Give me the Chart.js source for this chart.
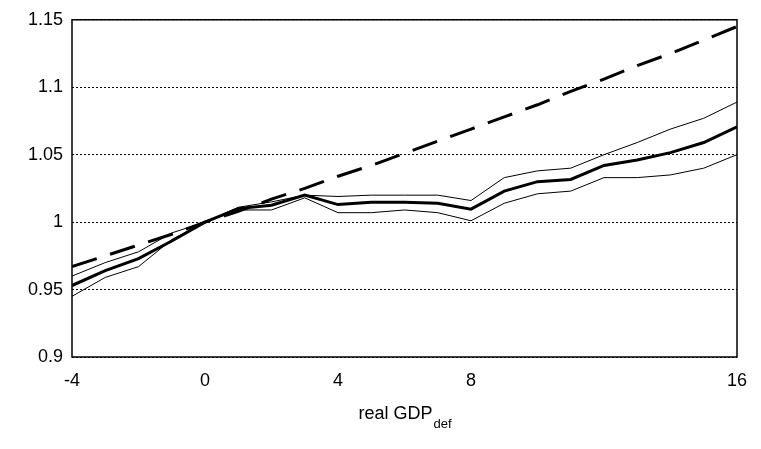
<!DOCTYPE html>
<html><head><meta charset="utf-8">
<script src="https://cdn.jsdelivr.net/npm/chart.js@4/dist/chart.umd.min.js"></script>
<style>html,body{margin:0;background:#fff}#c{display:block}</style>
</head><body>
<div style="width:761px;height:449px"><canvas id="c"></canvas></div>
<script>
const horizons = [-4,-3,-2,-1,0,1,2,3,4,5,6,7,8,9,10,11,12,13,14,15,16];
const median = [0.953,0.964,0.973,0.986,1,1.010,1.0125,1.020,1.013,1.0147,1.0147,1.014,1.0096,1.023,1.030,1.0316,1.042,1.046,1.0515,1.059,1.0706];
const upper = [0.960,0.970,0.978,0.992,1,1.011,1.015,1.020,1.019,1.020,1.020,1.020,1.016,1.033,1.038,1.040,1.050,1.059,1.069,1.077,1.089];
const lower = [0.945,0.959,0.967,0.987,1,1.009,1.009,1.018,1.007,1.007,1.009,1.007,1.001,1.014,1.021,1.023,1.033,1.033,1.035,1.040,1.050];
const dashed = [0.967,0.975,0.983,0.991,1,1.008,1.017,1.025,1.034,1.042,1.051,1.060,1.069,1.078,1.087,1.097,1.106,1.116,1.125,1.135,1.145];
const xTicks = [-4,0,4,8,16];
const yTicks = [0.9,0.95,1,1.05,1.1,1.15];

const pts = arr => arr.map((v,i) => ({x: horizons[i], y: v}));
const font = {family: 'Liberation Sans, Arial, sans-serif', size: 18};

const frame = {
  id: 'frame',
  afterDraw(chart) {
    const {ctx, chartArea: {left, top, right, bottom}} = chart;
    ctx.save();
    ctx.strokeStyle = '#000';
    ctx.lineWidth = 1.5;
    ctx.strokeRect(left, top, right - left, bottom - top);
    ctx.fillStyle = '#000';
    ctx.font = '18px Liberation Sans, Arial, sans-serif';
    const t = 'real GDP';
    const w = ctx.measureText(t).width;
    ctx.font = '13px Liberation Sans, Arial, sans-serif';
    const ws = ctx.measureText('def').width;
    const x0 = (left + right) / 2 - (w + ws) / 2;
    ctx.font = '18px Liberation Sans, Arial, sans-serif';
    ctx.fillText(t, x0, 419);
    ctx.font = '13px Liberation Sans, Arial, sans-serif';
    ctx.fillText('def', x0 + w + 1, 428);
    ctx.restore();
  }
};

new Chart(document.getElementById('c'), {
  type: 'line',
  plugins: [frame],
  data: {
    datasets: [
      {data: pts(dashed), borderColor: '#000', borderWidth: 3, borderDash: [26, 14]},
      {data: pts(upper), borderColor: '#000', borderWidth: 1},
      {data: pts(lower), borderColor: '#000', borderWidth: 1},
      {data: pts(median), borderColor: '#000', borderWidth: 3}
    ]
  },
  options: {
    responsive: true, maintainAspectRatio: false, animation: false,
    elements: {point: {radius: 0}, line: {tension: 0}},
    layout: {padding: {top: 17, right: 24, left: 0, bottom: 0}},
    plugins: {legend: {display: false}, tooltip: {enabled: false}},
    scales: {
      x: {
        type: 'linear', min: -4, max: 16,
        afterBuildTicks: s => { s.ticks = xTicks.map(v => ({value: v})); },
        afterFit: s => { s.height = 92; },
        grid: {display: false, drawTicks: false},
        border: {display: false},
        ticks: {font, color: '#000', padding: 13}
      },
      y: {
        min: 0.9, max: 1.15,
        afterBuildTicks: s => { s.ticks = yTicks.map(v => ({value: v})); },
        afterFit: s => { s.width = 72; },
        grid: {color: '#000', lineWidth: 1, drawTicks: false},
        border: {display: false, dash: [2, 2]},
        ticks: {font, color: '#000', padding: 9, callback: v => String(+v.toFixed(2))}
      }
    }
  }
});
</script>
</body></html>
